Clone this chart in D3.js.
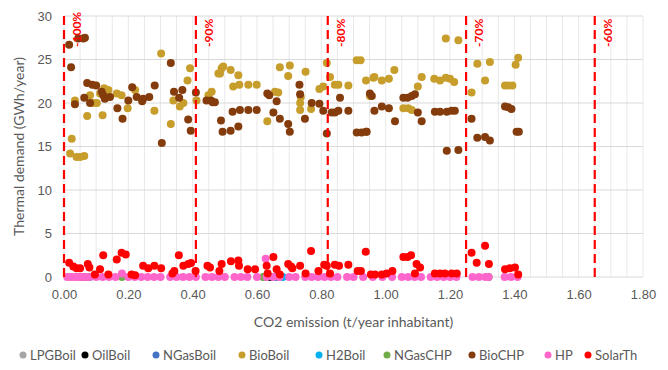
<!DOCTYPE html>
<html>
<head>
<meta charset="utf-8">
<script src="https://cdn.jsdelivr.net/npm/d3@7/dist/d3.min.js"></script>
<style>
  html, body { margin: 0; padding: 0; background: #fff; }
  svg { display: block; font-family: Lato, "Liberation Sans", sans-serif; }
</style>
</head>
<body>
<svg id="chart" width="668" height="370"></svg>
<script>
// Tick labels
const xTicks = [0, 0.2, 0.4, 0.6, 0.8, 1.0, 1.2, 1.4, 1.6, 1.8];
const yTicks = [0, 5, 10, 15, 20, 25, 30];

// Reduction targets (CO2 emission where each target is reached)
const targetLabels = ["-100%", "-90%", "-80%", "-70%", "-60%"];
const targetX = [0.0, 0.41, 0.82, 1.25, 1.65];

// Technology series: [CO2 emission, thermal demand]
const lpgBoil = [[0.05, 0], [0.62, 0]];
const oilBoil = [[0.06, 0], [0.64, 0]];
const nGasBoil = [[0.07, 0], [0.66, 0]];
const bioBoil = [
  [0.019, 14.2], [0.039, 13.8], [0.05, 13.8], [0.063, 13.9], [0.024, 15.9], [0.034, 20.3],
  [0.072, 18.5], [0.081, 20.9], [0.091, 20.0], [0.102, 20.0], [0.112, 21.1], [0.125, 21.7],
  [0.138, 21.5], [0.12, 18.6], [0.164, 21.1], [0.179, 20.9], [0.221, 21.5], [0.198, 19.4],
  [0.281, 19.1], [0.302, 25.7], [0.332, 17.6], [0.34, 20.3], [0.36, 19.6], [0.371, 20.0],
  [0.384, 22.6], [0.392, 24.0], [0.412, 20.3], [0.449, 20.9], [0.459, 21.3], [0.48, 23.4],
  [0.49, 24.0], [0.495, 24.2], [0.485, 23.4], [0.518, 23.8], [0.542, 23.2], [0.526, 21.9],
  [0.545, 22.1], [0.573, 22.1], [0.599, 22.1], [0.632, 17.9], [0.656, 21.3], [0.666, 21.2],
  [0.671, 24.1], [0.702, 24.3], [0.697, 23.1], [0.751, 23.6], [0.734, 20.0], [0.734, 19.2],
  [0.736, 20.7], [0.768, 19.3], [0.794, 21.6], [0.806, 21.9], [0.817, 24.6], [0.827, 23.0],
  [0.842, 22.1], [0.853, 22.1], [0.884, 22.0], [0.91, 24.9], [0.922, 24.9], [0.939, 22.6],
  [0.962, 22.9], [0.951, 20.8], [0.965, 23.0], [0.988, 22.6], [1.01, 22.8], [1.027, 23.8],
  [1.055, 19.4], [1.07, 19.4], [1.081, 19.2], [1.1, 21.9], [1.112, 23.0], [1.151, 22.8],
  [1.169, 22.6], [1.187, 22.9], [1.2, 22.8], [1.213, 22.4], [1.187, 27.4], [1.226, 27.2],
  [1.267, 21.2], [1.285, 24.5], [1.309, 22.6], [1.324, 24.7], [1.371, 22.0], [1.381, 22.0],
  [1.394, 22.0], [1.404, 24.4], [1.412, 25.2]
];
const h2Boil = [[0.08, 0], [0.68, 0]];
const nGasCHP = [[0.05, 0], [0.18, 0], [0.62, 0], [1.32, 0]];
const bioCHP = [
  [0.016, 26.7], [0.044, 27.4], [0.06, 27.4], [0.065, 27.5], [0.022, 24.1], [0.072, 22.3],
  [0.088, 22.1], [0.10, 22.0], [0.034, 19.85], [0.063, 20.6], [0.081, 20.0], [0.117, 21.3],
  [0.122, 20.9], [0.127, 20.5], [0.143, 20.7], [0.166, 19.4], [0.182, 18.2], [0.20, 20.3],
  [0.212, 21.8], [0.226, 20.7], [0.246, 20.5], [0.265, 20.7], [0.243, 20.2], [0.282, 22.0],
  [0.304, 15.4], [0.332, 24.6], [0.342, 21.3], [0.358, 20.6], [0.368, 21.5], [0.386, 18.1],
  [0.394, 16.8], [0.41, 21.2], [0.443, 20.3], [0.457, 20.3], [0.469, 20.1], [0.462, 20.1],
  [0.488, 18.0], [0.493, 16.7], [0.518, 16.8], [0.542, 17.3], [0.524, 19.0], [0.547, 19.2],
  [0.573, 19.2], [0.599, 19.2], [0.632, 21.1], [0.638, 20.9], [0.651, 18.9], [0.661, 20.2],
  [0.671, 18.2], [0.697, 17.6], [0.702, 16.7], [0.732, 22.1], [0.734, 21.0], [0.749, 18.2],
  [0.77, 20.0], [0.794, 19.9], [0.806, 19.1], [0.817, 16.5], [0.832, 18.9], [0.842, 18.9],
  [0.853, 19.1], [0.858, 20.6], [0.884, 19.1], [0.91, 16.6], [0.925, 16.6], [0.939, 16.7],
  [0.951, 21.1], [0.957, 20.8], [0.941, 16.7], [0.965, 19.1], [0.988, 19.6], [1.01, 19.4],
  [1.029, 17.9], [1.055, 20.6], [1.068, 20.6], [1.081, 20.8], [1.091, 21.0], [1.1, 18.9],
  [1.112, 17.9], [1.153, 19.0], [1.169, 19.0], [1.19, 19.0], [1.205, 19.1], [1.215, 19.1],
  [1.19, 14.5], [1.226, 14.6], [1.267, 18.2], [1.285, 16.0], [1.309, 16.1], [1.324, 15.7],
  [1.371, 19.6], [1.381, 19.5], [1.391, 19.3], [1.407, 16.7], [1.414, 16.7]
];
const hp = [
  [0.01, 0], [0.02, 0], [0.03, 0], [0.04, 0], [0.05, 0], [0.06, 0], [0.07, 0], [0.08, 0],
  [0.10, 0], [0.12, 0], [0.14, 0], [0.16, 0], [0.18, 0.4], [0.20, 0], [0.22, 0], [0.24, 0],
  [0.26, 0], [0.28, 0], [0.30, 0], [0.33, 0], [0.35, 0], [0.37, 0], [0.39, 0], [0.41, 0],
  [0.44, 0], [0.46, 0], [0.48, 0], [0.50, 0], [0.53, 0], [0.55, 0], [0.57, 0], [0.60, 0],
  [0.627, 2.1], [0.63, 0], [0.65, 0], [0.67, 0], [0.70, 0], [0.72, 0], [0.75, 0], [0.77, 0],
  [0.79, 0], [0.81, 0], [0.83, 0], [0.85, 0], [0.88, 0], [0.90, 0], [0.93, 0], [0.96, 0],
  [0.99, 0], [1.02, 0], [1.05, 0], [1.07, 0], [1.09, 0], [1.11, 0], [1.14, 0], [1.16, 0],
  [1.18, 0], [1.20, 0], [1.22, 0], [1.27, 0], [1.29, 0], [1.31, 0], [1.32, 0], [1.37, 0],
  [1.39, 0], [1.41, 0]
];
const solarTh = [
  [0.016, 1.65], [0.029, 1.2], [0.039, 1.0], [0.05, 1.0], [0.074, 1.5], [0.079, 1.1],
  [0.096, 0.3], [0.112, 0.9], [0.122, 2.5], [0.138, 0.3], [0.164, 2.0], [0.179, 2.8],
  [0.192, 2.6], [0.21, 0.3], [0.221, 0.2], [0.246, 1.3], [0.262, 1.0], [0.281, 1.3],
  [0.302, 1.0], [0.337, 0.4], [0.343, 0.7], [0.357, 2.5], [0.371, 1.3], [0.386, 1.5],
  [0.395, 1.6], [0.409, 0.7], [0.446, 1.3], [0.454, 1.1], [0.483, 0.7], [0.49, 1.5],
  [0.519, 1.8], [0.542, 1.9], [0.544, 1.3], [0.571, 0.9], [0.594, 0.9], [0.63, 1.3],
  [0.633, 0.4], [0.651, 2.3], [0.661, 0.9], [0.671, 0.3], [0.697, 1.5], [0.71, 1.0],
  [0.706, 1.2], [0.734, 1.3], [0.751, 0.4], [0.768, 3.0], [0.791, 0.7], [0.809, 1.4],
  [0.817, 1.3], [0.827, 0.4], [0.842, 1.4], [0.855, 1.3], [0.884, 1.4], [0.913, 0.7],
  [0.923, 0.7], [0.938, 2.9], [0.954, 0.3], [0.967, 0.3], [0.988, 0.3], [1.003, 0.4],
  [1.021, 0.7], [1.055, 2.3], [1.068, 2.3], [1.079, 2.5], [1.096, 1.5], [1.107, 1.1],
  [1.091, 0.4], [1.153, 0.4], [1.169, 0.4], [1.184, 0.4], [1.205, 0.4], [1.221, 0.4],
  [1.267, 2.8], [1.283, 1.65], [1.309, 3.6], [1.321, 1.5], [1.371, 0.9], [1.386, 1.0],
  [1.402, 1.1], [1.412, 0.3]
];

const seriesNames = ["LPGBoil", "OilBoil", "NGasBoil", "BioBoil", "H2Boil", "NGasCHP", "BioCHP", "HP", "SolarTh"];
const seriesColors = ["#a5a5a5", "#000000", "#4472c4", "#c79d2b", "#00b0f0", "#70ad47", "#843c0c", "#ff66cc", "#ff0000"];
const seriesData = [lpgBoil, oilBoil, nGasBoil, bioBoil, h2Boil, nGasCHP, bioCHP, hp, solarTh];

const svg = d3.select("#chart");
const plot = { left: 64, right: 643, top: 16, bottom: 277 };

const x = d3.scaleLinear().domain([0, 1.8]).range([plot.left, plot.right]);
const y = d3.scaleLinear().domain([0, 30]).range([plot.bottom, plot.top]);

// Grid: light vertical lines every 0.05, horizontal every 5
const vGrid = d3.range(0, 1.8001, 0.05);
svg.append("g").selectAll("line").data(vGrid).join("line")
  .attr("x1", d => x(d)).attr("x2", d => x(d))
  .attr("y1", plot.top).attr("y2", plot.bottom)
  .attr("stroke", "#e8e8e8").attr("stroke-width", 1);

svg.append("g").selectAll("line").data(yTicks).join("line")
  .attr("x1", plot.left).attr("x2", plot.right)
  .attr("y1", d => y(d)).attr("y2", d => y(d))
  .attr("stroke", "#d9d9d9").attr("stroke-width", 1);

// Axes (labels only)
const xAxis = svg.append("g")
  .attr("transform", `translate(0,${plot.bottom})`)
  .call(d3.axisBottom(x).tickValues(xTicks).tickFormat(d3.format(".2f")).tickSize(0).tickPadding(13));
xAxis.select(".domain").remove();
xAxis.selectAll("text").attr("fill", "#595959").style("font-size", "13px");

const yAxis = svg.append("g")
  .attr("transform", `translate(${plot.left},0)`)
  .call(d3.axisLeft(y).tickValues(yTicks).tickFormat(d3.format("d")).tickSize(0).tickPadding(12));
yAxis.select(".domain").remove();
yAxis.selectAll("text").attr("fill", "#595959").style("font-size", "13px");

// Axis titles
svg.append("text")
  .attr("x", (plot.left + plot.right) / 2).attr("y", 327)
  .attr("text-anchor", "middle").attr("fill", "#595959").style("font-size", "14px")
  .text("CO2 emission (t/year inhabitant)");

svg.append("text")
  .attr("transform", `translate(24,${(plot.top + plot.bottom) / 2}) rotate(-90)`)
  .attr("text-anchor", "middle").attr("fill", "#595959").style("font-size", "14px")
  .text("Thermal demand (GWh/year)");

// Points, drawn in series order so later series sit on top
seriesData.forEach((data, i) => {
  svg.append("g").selectAll("circle").data(data).join("circle")
    .attr("cx", d => x(d[0])).attr("cy", d => y(d[1]))
    .attr("r", 4).attr("fill", seriesColors[i]);
});

// Reduction target markers: dashed lines with labels reading upward
const targets = svg.append("g");
targets.selectAll("line").data(targetX).join("line")
  .attr("x1", d => x(d)).attr("x2", d => x(d))
  .attr("y1", plot.top).attr("y2", plot.bottom)
  .attr("stroke", "#ff0000").attr("stroke-width", 2.2)
  .attr("stroke-dasharray", "9,5");
targets.selectAll("text").data(targetX).join("text")
  .attr("transform", d => `translate(${x(d) + 17},47) rotate(-90)`)
  .attr("text-anchor", "start")
  .attr("fill", "#ff0000").style("font-size", "12px").style("font-weight", "bold")
  .text((d, i) => targetLabels[i]);

// Legend
const legendX = [23, 85, 156, 242, 319, 387, 472, 548, 588];
const legend = svg.append("g").attr("transform", "translate(0,355)");
const items = legend.selectAll("g").data(seriesNames).join("g")
  .attr("transform", (d, i) => `translate(${legendX[i]},0)`);
items.append("circle").attr("r", 3.5).attr("fill", (d, i) => seriesColors[i]);
items.append("text").attr("x", 7).attr("dy", "0.35em")
  .attr("fill", "#595959").style("font-size", "13px").text(d => d);
</script>
</body>
</html>
